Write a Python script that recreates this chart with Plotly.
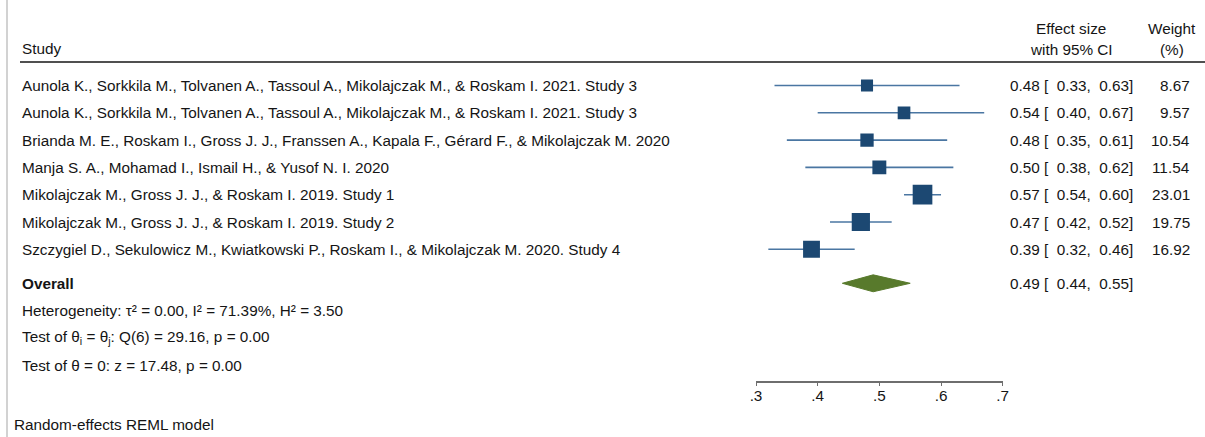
import plotly.graph_objects as go
import math

# ---- data -------------------------------------------------------------
studies = [
    "Aunola K., Sorkkila M., Tolvanen A., Tassoul A., Mikolajczak M., & Roskam I. 2021. Study 3",
    "Aunola K., Sorkkila M., Tolvanen A., Tassoul A., Mikolajczak M., & Roskam I. 2021. Study 3",
    "Brianda M. E., Roskam I., Gross J. J., Franssen A., Kapala F., Gérard F., & Mikolajczak M. 2020",
    "Manja S. A., Mohamad I., Ismail H., & Yusof N. I. 2020",
    "Mikolajczak M., Gross J. J., & Roskam I. 2019. Study 1",
    "Mikolajczak M., Gross J. J., & Roskam I. 2019. Study 2",
    "Szczygiel D., Sekulowicz M., Kwiatkowski P., Roskam I., & Mikolajczak M. 2020. Study 4",
]
effect = [0.48, 0.54, 0.48, 0.50, 0.57, 0.47, 0.39]
ci_low = [0.33, 0.40, 0.35, 0.38, 0.54, 0.42, 0.32]
ci_high = [0.63, 0.67, 0.61, 0.62, 0.60, 0.52, 0.46]
weight = [8.67, 9.57, 10.54, 11.54, 23.01, 19.75, 16.92]

overall_effect = 0.49
overall_low = 0.44
overall_high = 0.55

tick_vals = [0.3, 0.4, 0.5, 0.6, 0.7]
tick_text = [".3", ".4", ".5", ".6", ".7"]

stats_lines = [
    "Heterogeneity: τ² = 0.00, I² = 71.39%, H² = 3.50",
    "Test of θ<sub>i</sub> = θ<sub>j</sub>: Q(6) = 29.16, p = 0.00",
    "Test of θ = 0: z = 17.48, p = 0.00",
]
model_note = "Random-effects REML model"

# ---- layout constants ---------------------------------------------------
W, H = 1205, 437
FONT = "Liberation Sans, Arial, Helvetica, sans-serif"
FS = 15.3
TXT = "#151515"
SQUARE = "#1c4872"
CI_LINE = "#4a76a2"
DIAMOND = "#587a2c"

row_top = 85.5       # pixel centre of first study row
row_step = 27.3      # pixel spacing of rows
axis_px = 380.5      # pixel height of the x axis line
overall_row = 7.245
y_top = -row_top / row_step
y_bot = (axis_px - row_top) / row_step

def px_x(p):
    return p / W

def px_y(p):
    return 1 - p / H

NB = "\u00a0"

def ci_label(e, lo, hi):
    return f"{e:.2f} [{NB}{NB}{lo:.2f},{NB}{NB}{hi:.2f}]"

fig = go.Figure()

rows = list(range(len(studies)))

# confidence interval whiskers
for r, lo, hi in zip(rows, ci_low, ci_high):
    fig.add_trace(go.Scatter(
        x=[lo, hi], y=[r, r], mode="lines",
        line=dict(color=CI_LINE, width=1.6),
        hoverinfo="skip", showlegend=False,
    ))

# weighted point estimates (area proportional to weight)
fig.add_trace(go.Scatter(
    x=effect, y=rows, mode="markers",
    marker=dict(symbol="square", color=SQUARE, opacity=1,
                size=[4.1 * math.sqrt(w) for w in weight],
                line=dict(width=0)),
    showlegend=False,
))

# overall diamond
dh = 0.31
fig.add_trace(go.Scatter(
    x=[overall_low, overall_effect, overall_high, overall_effect, overall_low],
    y=[overall_row, overall_row - dh, overall_row, overall_row + dh, overall_row],
    mode="lines", fill="toself", fillcolor=DIAMOND,
    line=dict(color=DIAMOND, width=1), showlegend=False,
))

ann = []

def text(x, y, s, xanchor="left", yref="y", bold=False):
    if bold:
        s = f"<b>{s}</b>"
    align = {"left": "left", "right": "right"}.get(xanchor, "center")
    ann.append(dict(x=x, y=y, xref="paper", yref=yref, text=s,
                    xanchor=xanchor, yanchor="middle", align=align,
                    showarrow=False, borderpad=0, borderwidth=0,
                    font=dict(family=FONT, size=FS, color=TXT)))

# headers
text(px_x(22), px_y(49), "Study", yref="paper")
text(px_x(1071), px_y(28), "Effect size", xanchor="center", yref="paper")
text(px_x(1071), px_y(50), "with 95% CI", xanchor="center", yref="paper")
text(px_x(1172), px_y(28), "Weight", xanchor="center", yref="paper")
text(px_x(1172), px_y(50), "(%)", xanchor="center", yref="paper")

# study rows
for r, s, e, lo, hi, w in zip(rows, studies, effect, ci_low, ci_high, weight):
    text(px_x(22), r, s)
    text(px_x(1010), r, ci_label(e, lo, hi))
    text(px_x(1190), r, f"{w:.2f}", xanchor="right")

# overall row
text(px_x(22), overall_row, "Overall", bold=True)
text(px_x(1010), overall_row, ci_label(overall_effect, overall_low, overall_high))

# heterogeneity statistics
for i, s in enumerate(stats_lines):
    text(px_x(22), overall_row + 1 + i, s)

text(px_x(14), px_y(424), model_note, yref="paper")

shapes = [
    # header rule
    dict(type="line", xref="paper", yref="paper",
         x0=px_x(20), x1=1, y0=px_y(62), y1=px_y(62),
         line=dict(color="#505050", width=2)),
    # left frame edge
    dict(type="line", xref="paper", yref="paper",
         x0=px_x(7), x1=px_x(7), y0=0, y1=1,
         line=dict(color="#b4b4b4", width=1.2)),
]

fig.update_layout(
    width=W, height=H,
    margin=dict(l=0, r=0, t=0, b=0, autoexpand=False),
    paper_bgcolor="white", plot_bgcolor="white",
    showlegend=False,
    annotations=ann, shapes=shapes,
    xaxis=dict(
        domain=[756 / W, 1002.7 / W], range=[0.3, 0.7],
        tickvals=tick_vals, ticktext=tick_text,
        showline=True, linecolor="#6e6e6e", linewidth=1.5,
        ticks="outside", ticklen=4, tickwidth=1.3, tickcolor="#6e6e6e",
        ticklabelstandoff=-4,
        showgrid=False, zeroline=False,
        tickfont=dict(family=FONT, size=FS, color=TXT),
        fixedrange=True,
    ),
    yaxis=dict(
        domain=[px_y(axis_px), 1], range=[y_bot, y_top],
        visible=False, showgrid=False, zeroline=False, fixedrange=True,
    ),
)

fig.write_html("out.html", config={"displayModeBar": False})
